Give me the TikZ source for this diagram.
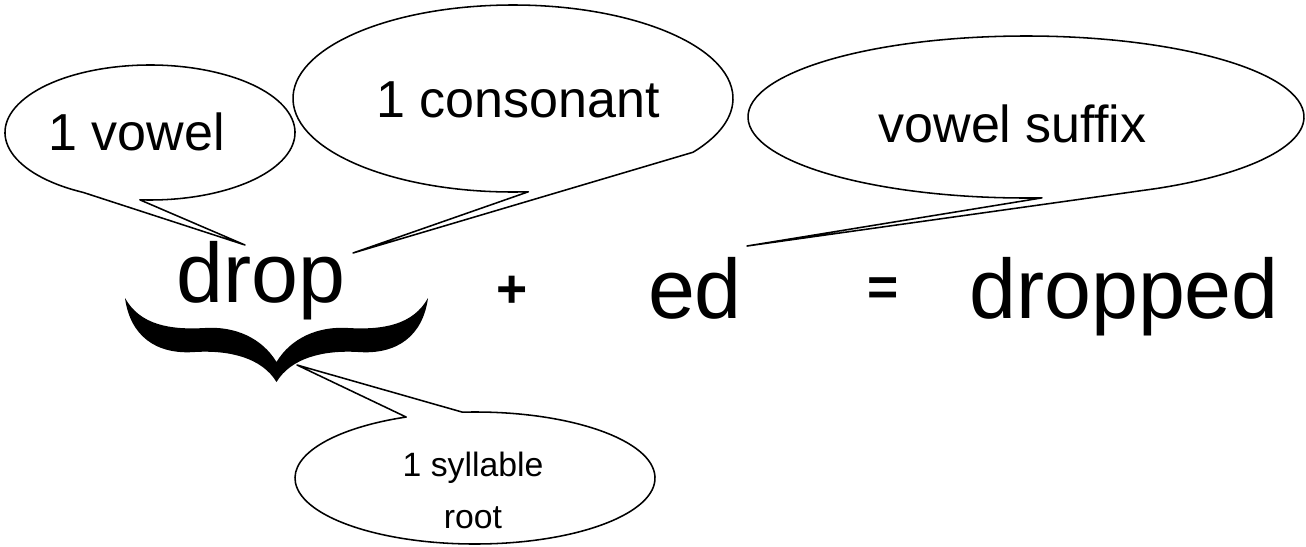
\documentclass[tikz,border=0pt]{standalone}
\usepackage{fontspec}
\setmainfont{Liberation Sans}
\usetikzlibrary{calc}

\begin{document}
\begin{tikzpicture}[x=0.025cm, y=-0.025cm,
    word/.style={inner sep=0pt, anchor=base, font=\fontsize{60}{60}\selectfont},
    sign/.style={inner sep=0pt, font=\bfseries\fontsize{38}{38}\selectfont},
    note/.style={inner sep=0pt, anchor=base, font=\fontsize{37}{37}\selectfont},
    bubble/.style={line width=1.1pt, line join=round}]
  \useasboundingbox (0,0) rectangle (1306,546);
  % the words
  \node[word] (drop) at (261,302) {drop};
  \node[sign] (plus) at (512,291.5) {+};
  \node[word] (ed) at (695,318) {ed};
  \node[sign] (eq) at (883.5,292) {=};
  \node[word] (dropped) at (1124,318) {dropped};
  % brace under drop
  \fill (125,298) .. controls (130,335) and (155,355) .. (195,352)
    .. controls (230,350) and (262,358) .. (276.5,382)
    .. controls (291,358) and (323,350) .. (358,352)
    .. controls (398,355) and (423,335) .. (428,298)
    .. controls (413,325) and (383,330) .. (348,328)
    .. controls (318,326) and (291,338) .. (276.5,362)
    .. controls (262,338) and (235,326) .. (205,328)
    .. controls (170,330) and (140,325) .. (125,298) -- cycle;
  % pointer tips
  \coordinate (tV) at (245,245);
  \coordinate (tC) at (353,253);
  \coordinate (tS) at (747,246);
  \coordinate (tR) at (297,365);
  % bubbles
  \node[note] (vowel) at (136.5,150) {1 vowel};
  \draw[bubble] ($(150,132.5)+(117.5:145 and 67.5)$)
    arc[start angle=117.5, end angle=454, x radius=145, y radius=67.5] -- (tV) -- cycle;
  \node[note] (cons) at (518,117) {1 consonant};
  \draw[bubble] ($(513,98.5)+(86:220 and 93.5)$)
    arc[start angle=86, end angle=395.1, x radius=220, y radius=93.5] -- (tC) -- cycle;
  \node[note] (suffix) at (1012.5,142) {vowel suffix};
  \draw[bubble] ($(1026,117)+(86.7:278 and 81)$)
    arc[start angle=86.7, end angle=422, x radius=278, y radius=81] -- (tS) -- cycle;
  \node[inner sep=0pt, align=center, font=\fontsize{24}{37}\selectfont] (syll) at (473,490) {1 syllable\\root};
  \draw[bubble] ($(475,478)+(266:180 and 66)$)
    arc[start angle=266, end angle=607.5, x radius=180, y radius=66] -- (tR) -- cycle;
\end{tikzpicture}
\end{document}
